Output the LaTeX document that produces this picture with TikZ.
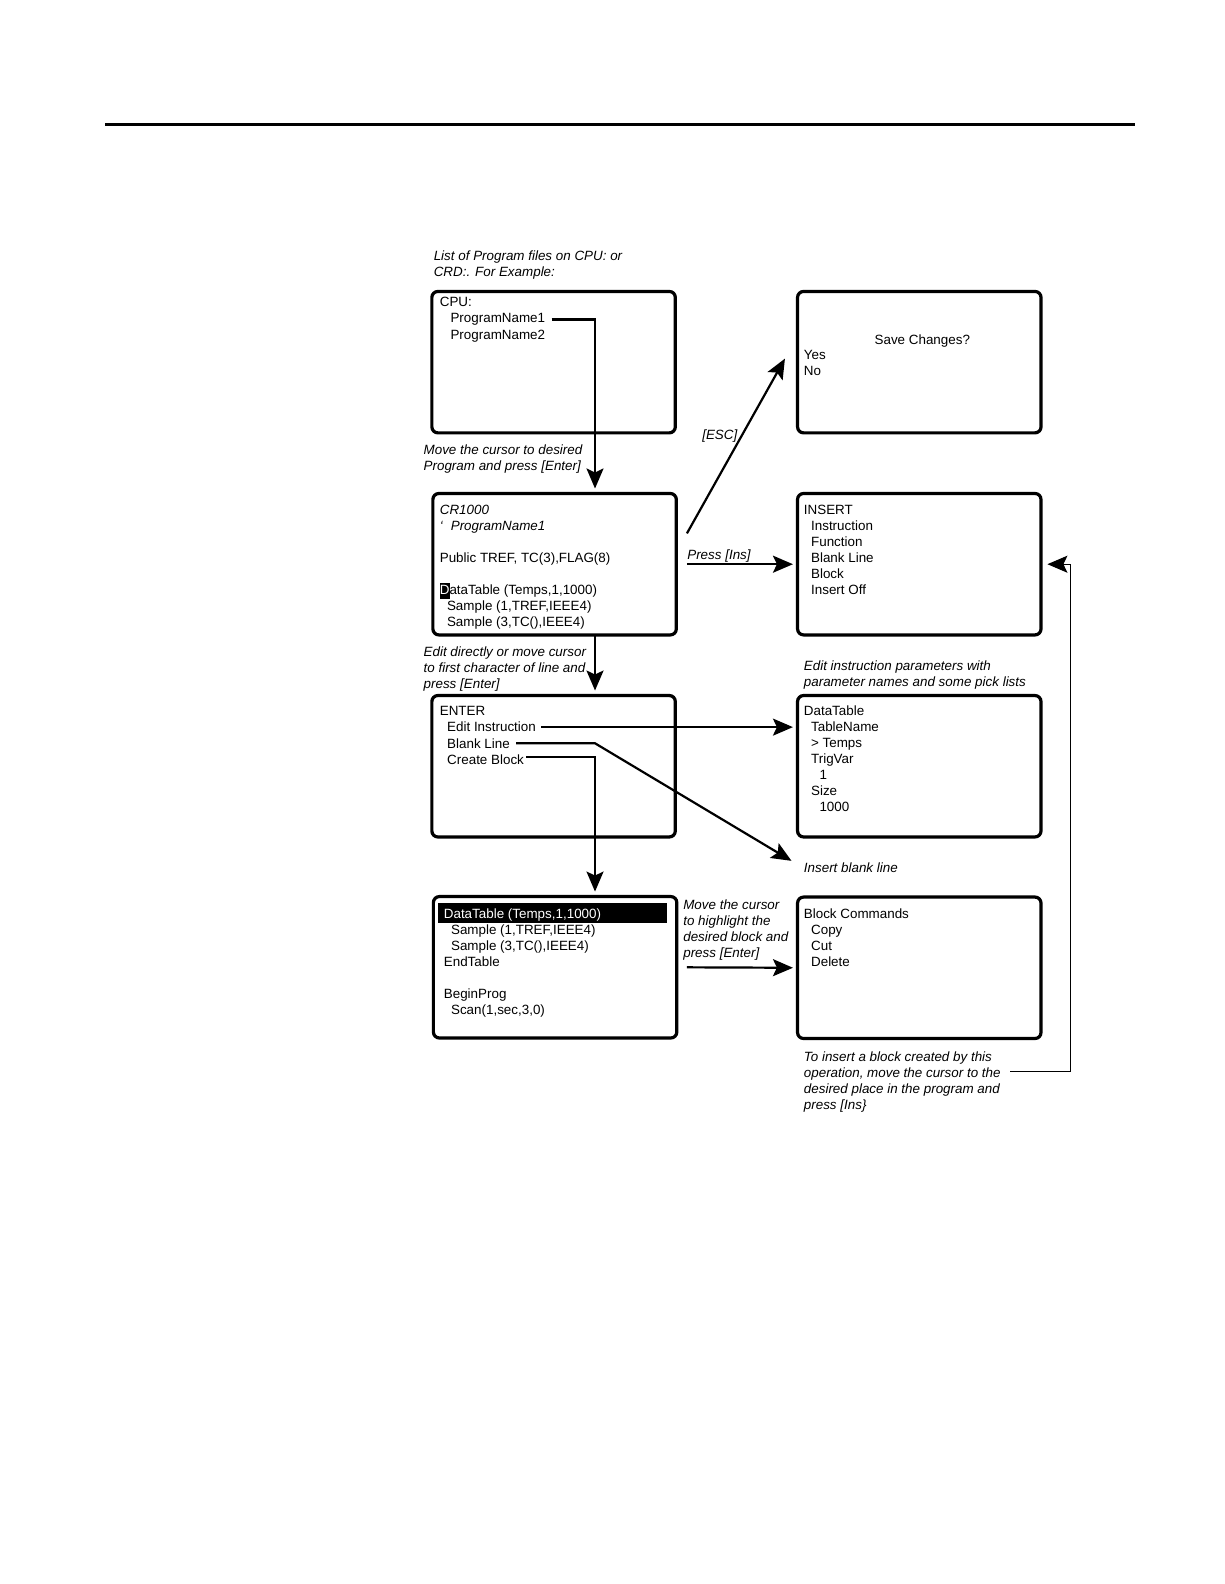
\documentclass[tikz,border=0pt]{standalone}
\usepackage{fontspec}
\setmainfont{Liberation Sans}
\usetikzlibrary{arrows.meta, positioning}

\newcommand{\scrfont}{\fontsize{6.7}{8}\selectfont}
\newcommand{\indA}{\hspace*{3.6pt}}
\newcommand{\indB}{\hspace*{7.8pt}}
\newcommand{\curs}[1]{{\setlength{\fboxsep}{0pt}\colorbox{black}{\strut\color{white}#1}}}

\begin{document}
\begin{tikzpicture}[x=0.505pt, y=-0.505pt,
        scrn/.style={draw, line width=1.6pt, rounded corners=3pt, anchor=north west,
                     minimum width=121.7pt, minimum height=70.7pt,
                     inner sep=0pt, outer sep=0pt},
        txt/.style={font=\scrfont, inner sep=0pt, anchor=north west, align=left},
        note/.style={txt, font=\scrfont\itshape},
        arr/.style={-{Stealth[length=10pt, width=8.5pt, inset=2pt]}, line width=1.1pt}]
  \useasboundingbox (0,0) rectangle (1212,1568);
  \draw[line width=1.5pt] (104,123) -- (1124,123);

  % screens, left column
  \node[scrn] (cpubox) at (427.5,288.5) {};
  \node[scrn] (progbox) at (428.5,488.5) {};
  \node[scrn] (enterbox) at (427.5,688.5) {};
  \node[scrn] (blockbox) at (429,887.5) {};
  % screens, right column
  \node[scrn] (savebox) at (789.5,288.5) {};
  \node[scrn] (insbox) at (789.5,488.5) {};
  \node[scrn] (parambox) at (789.5,688.5) {};
  \node[scrn] (cmdbox) at (789.5,888) {};

  % screen texts
  \node[txt] (cpu) at (435,294) {CPU:};
  \node[txt] (pn1) at (445.6,310) {ProgramName1};
  \node[txt] (pn2) at (445.6,326) {ProgramName2};
  \node[txt] (progtxt) at (435,499.3) {\itshape CR1000\\
    \itshape\textquoteleft\hspace*{4pt}ProgramName1\\ \\
    Public TREF, TC(3),FLAG(8)\\ \\
    \curs{D}ataTable (Temps,1,1000)\\
    \indA Sample (1,TREF,IEEE4)\\
    \indA Sample (3,TC(),IEEE4)};
  \node[txt] (enter) at (435,698.7) {ENTER};
  \node[txt] (editins) at (442.3,714.5) {Edit Instruction};
  \node[txt] (blankl) at (442.3,730.5) {Blank Line};
  \node[txt] (createb) at (442.3,746.5) {Create Block};
  \node[fill=black, anchor=north west, minimum width=114.1pt, minimum height=9.9pt,
        inner sep=0pt, outer sep=0pt] (hlbar) at (434,894) {};
  \node[txt] (blocktxt) at (439,899.4) {{\color{white}DataTable (Temps,1,1000)}\\
    \indA Sample (1,TREF,IEEE4)\\
    \indA Sample (3,TC(),IEEE4)\\
    EndTable\\ \\
    BeginProg\\
    \indA Scan(1,sec,3,0)};
  \node[txt] (savetitle) at (865.4,331) {Save Changes?};
  \node[txt] (yesno) at (795.4,346.5) {Yes\\No};
  \node[txt] (instxt) at (795.4,499.3) {INSERT\\
    \indA Instruction\\ \indA Function\\ \indA Blank Line\\ \indA Block\\ \indA Insert Off};
  \node[txt] (paramtxt) at (795.4,698.7) {DataTable\\
    \indA TableName\\ \indA > Temps\\ \indA TrigVar\\ \indB 1\\ \indA Size\\ \indB 1000};
  \node[txt] (cmdtxt) at (795.4,899.4) {Block Commands\\
    \indA Copy\\ \indA Cut\\ \indA Delete};

  % notes
  \node[note] (listnote) at (429,247.5) {List of Program files on CPU: or\\CRD:. For Example:};
  \node[note] (movenote) at (419,440) {Move the cursor to desired\\Program and press [Enter]};
  \node[note] (editnote) at (419,640.3) {Edit directly or move cursor\\to first character of line and\\press [Enter]};
  \node[note] (escl) at (694.8,424.7) {[ESC]};
  \node[note] (insl) at (680,543.9) {Press [Ins]};
  \node[note] (paramnote) at (795.4,653.5) {Edit instruction parameters with\\parameter names and some pick lists};
  \node[note] (insblank) at (795.4,854) {Insert blank line};
  \node[note] (hlnote) at (676,890) {Move the cursor\\to highlight the\\desired block and\\press [Enter]};
  \node[note] (pastenote) at (795.4,1040.3) {To insert a block created by this\\operation, move the cursor to the\\desired place in the program and\\press [Ins\}};

  % connectors
  \coordinate (trunk) at (589,0);
  \coordinate (loopx) at (1060,0);
  \coordinate (insfrom) at (1000,1061);
  \draw[arr, shorten <=3pt, shorten >=2.5pt] (pn1.east) -| (trunk |- progbox.north);
  \draw[arr, shorten >=2.5pt] (trunk |- progbox.south) -- (trunk |- enterbox.north);
  \draw[arr, shorten <=2.5pt, shorten >=2.3pt] (editins.east) -- (editins.east -| parambox.west);
  \draw[arr, shorten <=3pt, shorten >=7pt] (blankl.east) -- (trunk |- blankl.east) -- (insblank.west);
  \draw[arr, shorten <=1pt, shorten >=2.5pt] ([yshift=1.3pt]createb.east) -| (trunk |- blockbox.north);
  \draw[arr] ([shift={(10.5,-30.5)}]progbox.east) -- ([shift={(-12.5,-3.5)}]savebox.west);
  \draw[arr, shorten <=5.3pt, shorten >=2.3pt] (progbox.east) -- (insbox.west);
  \draw[arr, shorten <=5pt, shorten >=2.3pt] (blockbox.east) -- (cmdbox.west);
  \draw[arr, line width=0.6pt, shorten >=3.2pt] (insfrom) -- (insfrom -| loopx)
    -- (loopx |- insbox.east) -- (insbox.east);
\end{tikzpicture}
\end{document}
